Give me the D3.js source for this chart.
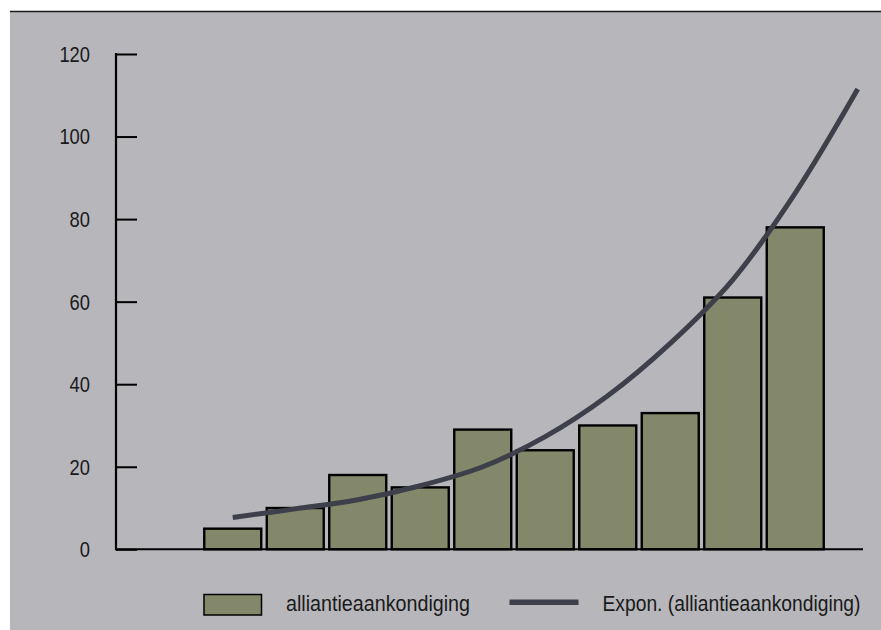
<!DOCTYPE html>
<html>
<head>
<meta charset="utf-8">
<script src="https://cdn.jsdelivr.net/npm/d3@7"></script>
<style>
  html, body { margin: 0; padding: 0; background: #ffffff; }
  svg { display: block; }
  text { font-family: "Liberation Sans", Arial, sans-serif; fill: #1a1a1a; }
</style>
</head>
<body>
<svg id="chart" width="881" height="630"></svg>
<script>
// ---- data ----
const categories = ["1", "2", "3", "4", "5", "6", "7", "8", "9", "10"];
const barValues = [5, 10, 18, 15, 29, 24, 30, 33, 61, 78];
const trendIndex = [0, 1, 2, 3, 4, 5, 6, 7, 8, 9, 10];
const trendValues = [7.7, 9.8, 12.0, 15.4, 20.0, 27.3, 37.2, 49.9, 65.3, 86.3, 111.5];
const yTicks = [0, 20, 40, 60, 80, 100, 120];
const seriesName = "alliantieaankondiging";
const trendName = "Expon. (alliantieaankondiging)";

// ---- layout ----
const W = 881, H = 630;
const axisLeft = 116, axisRight = 863;
const plotTop = 54, plotBottom = 549.3;
const barBandLeft = 201.5, barBandRight = 826.5;

const svg = d3.select("#chart");

// background panel
svg.append("rect").attr("x", 10).attr("y", 12).attr("width", W - 10).attr("height", H - 12)
  .attr("fill", "#b7b6bb");
svg.append("line").attr("x1", 10).attr("x2", W).attr("y1", 11.5).attr("y2", 11.5)
  .attr("stroke", "#1a1a1a").attr("stroke-width", 1.3);

// scales
const y = d3.scaleLinear().domain([0, 120]).range([plotBottom, plotTop]);
const x = d3.scaleBand().domain(categories).range([barBandLeft, barBandRight])
  .paddingInner(0.088).paddingOuter(0.044);
const bw = x.bandwidth();
const xTrend = d3.scaleLinear().domain([0, categories.length - 1])
  .range([x(categories[0]) + bw / 2, x(categories[categories.length - 1]) + bw / 2]);

// bars
svg.append("g").selectAll("rect").data(barValues).join("rect")
  .attr("x", (d, i) => x(categories[i]))
  .attr("y", d => y(d))
  .attr("width", bw)
  .attr("height", d => y(0) - y(d))
  .attr("fill", "#84886b")
  .attr("stroke", "#000")
  .attr("stroke-width", 2.4);

// y axis
const yAxis = d3.axisRight(y).tickValues(yTicks).tickSize(21).tickFormat("");
const gy = svg.append("g").attr("transform", `translate(${axisLeft},0)`).call(yAxis);
gy.select(".domain").remove();
gy.selectAll(".tick line").attr("stroke", "#000").attr("stroke-width", 2);
svg.append("line").attr("x1", axisLeft).attr("x2", axisLeft)
  .attr("y1", y(120) - 1).attr("y2", y(0) + 1)
  .attr("stroke", "#000").attr("stroke-width", 2.2);

// y tick labels (condensed via textLength)
svg.append("g").selectAll("text").data(yTicks).join("text")
  .attr("x", 90).attr("y", d => y(d)).attr("dy", "0.36em")
  .attr("text-anchor", "end").attr("font-size", 22)
  .attr("textLength", d => String(d).length * 10.2)
  .attr("lengthAdjust", "spacingAndGlyphs")
  .text(d => d);

// x axis line
svg.append("line").attr("x1", axisLeft).attr("x2", axisRight)
  .attr("y1", y(0)).attr("y2", y(0))
  .attr("stroke", "#000").attr("stroke-width", 2);

// trend line
const line = d3.line().x((d, i) => xTrend(trendIndex[i])).y(d => y(d)).curve(d3.curveCatmullRom.alpha(0.5));
svg.append("path").datum(trendValues).attr("d", line)
  .attr("fill", "none").attr("stroke", "#3d404b").attr("stroke-width", 5)
  .attr("stroke-linecap", "butt");

// legend
const lg = svg.append("g");
lg.append("rect").attr("x", 204).attr("y", 594.5).attr("width", 57.5).attr("height", 20.5)
  .attr("fill", "#84886b").attr("stroke", "#000").attr("stroke-width", 1.5);
lg.append("text").attr("x", 286).attr("y", 610.5).attr("font-size", 22)
  .attr("textLength", 184).attr("lengthAdjust", "spacingAndGlyphs").text(seriesName);
lg.append("line").attr("x1", 509.5).attr("x2", 578.5).attr("y1", 602.3).attr("y2", 602.3)
  .attr("stroke", "#3d404b").attr("stroke-width", 5.5);
lg.append("text").attr("x", 602.5).attr("y", 610.5).attr("font-size", 22)
  .attr("textLength", 258).attr("lengthAdjust", "spacingAndGlyphs").text(trendName);
</script>
</body>
</html>
